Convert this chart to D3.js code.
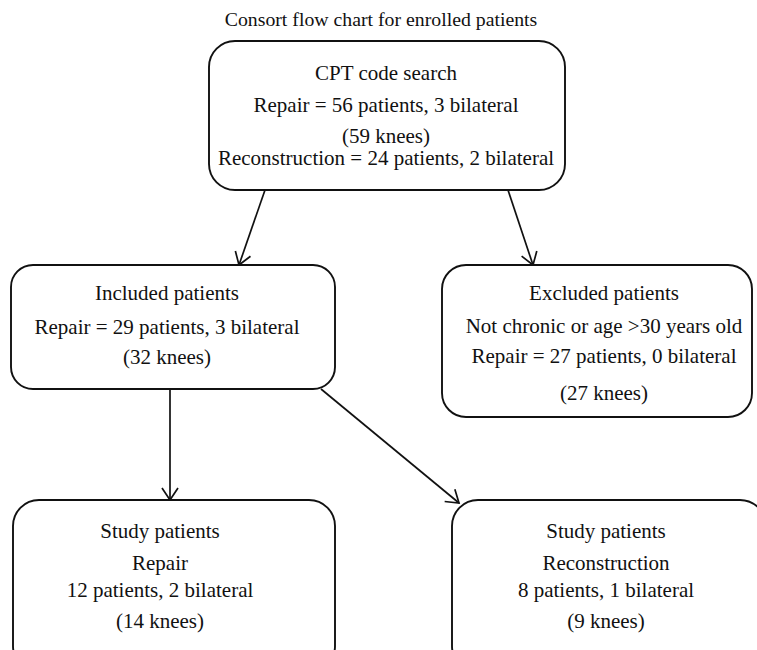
<!DOCTYPE html>
<html><head><meta charset="utf-8">
<script src="https://cdn.jsdelivr.net/npm/d3@7"></script>
<style>html,body{margin:0;padding:0;background:#fff;}svg{display:block;}</style>
</head><body>
<svg id="c" width="757" height="650"></svg>
<script>
// ---- content ----
const title = "Consort flow chart for enrolled patients";
const nodeIds = ["search", "included", "excluded", "studyRepair", "studyRecon"];
const nodeLines = {
  search: ["CPT code search", "Repair = 56 patients, 3 bilateral", "(59 knees)", "Reconstruction = 24 patients, 2 bilateral"],
  included: ["Included patients", "Repair = 29 patients, 3 bilateral", "(32 knees)"],
  excluded: ["Excluded patients", "Not chronic or age >30 years old", "Repair = 27 patients, 0 bilateral", "(27 knees)"],
  studyRepair: ["Study patients", "Repair", "12 patients, 2 bilateral", "(14 knees)"],
  studyRecon: ["Study patients", "Reconstruction", "8 patients, 1 bilateral", "(9 knees)"]
};
const links = [["search","included"],["search","excluded"],["included","studyRepair"],["included","studyRecon"]];

// ---- layout (separate from content) ----
const layout = {
  search:      {x0:209, y0:41,  x1:565, y1:190, r:26, tx:386, base:[80,112,143,165]},
  included:    {x0:11,  y0:265, x1:335, y1:389, r:22, tx:167, base:[300,334,364]},
  excluded:    {x0:442, y0:265, x1:752, y1:417, r:24, tx:604, base:[300,333,363,400]},
  studyRepair: {x0:13,  y0:500, x1:335, y1:672, r:26, tx:160, base:[538,570,597,628]},
  studyRecon:  {x0:452, y0:500, x1:766, y1:672, r:26, tx:606, base:[538,570,597,628]}
};
const linkGeom = [
  {from:[265,190], to:[239,265]},
  {from:[508,190], to:[533,265]},
  {from:[170,389], to:[170,500]},
  {from:[321,389], to:[459,503]}
];

const svg = d3.select("#c");
const FONT = "'Liberation Serif', 'Times New Roman', serif";

svg.append("text").attr("x", 381).attr("y", 26).attr("text-anchor","middle")
  .attr("font-family", FONT).attr("font-size", 19.8).attr("fill","#111").text(title);

svg.append("defs").append("marker").attr("id","arr")
  .attr("viewBox","-14 -9 16 18").attr("refX",0).attr("refY",0)
  .attr("markerWidth",16).attr("markerHeight",18).attr("markerUnits","userSpaceOnUse")
  .attr("orient","auto")
  .append("path").attr("d","M-12,-8 L0,0 L-12,8").attr("fill","none").attr("stroke","#111").attr("stroke-width",1.7);

const line = d3.line();
svg.selectAll("path.link").data(links).join("path").attr("class","link")
  .attr("d", (d,i) => line([linkGeom[i].from, linkGeom[i].to]))
  .attr("fill","none").attr("stroke","#111").attr("stroke-width",1.7)
  .attr("marker-end","url(#arr)");

const g = svg.selectAll("g.node").data(nodeIds).join("g").attr("class","node");
g.append("rect")
  .attr("x", d => layout[d].x0).attr("y", d => layout[d].y0)
  .attr("width", d => layout[d].x1 - layout[d].x0).attr("height", d => layout[d].y1 - layout[d].y0)
  .attr("rx", d => layout[d].r).attr("ry", d => layout[d].r)
  .attr("fill","#fff").attr("stroke","#111").attr("stroke-width",1.9);
g.each(function(d){
  d3.select(this).selectAll("text").data(nodeLines[d]).join("text")
    .attr("x", layout[d].tx).attr("y", (t,i) => layout[d].base[i])
    .attr("text-anchor","middle").attr("font-family", FONT).attr("font-size", 21)
    .attr("fill","#111").text(t => t);
});
</script>
</body></html>
